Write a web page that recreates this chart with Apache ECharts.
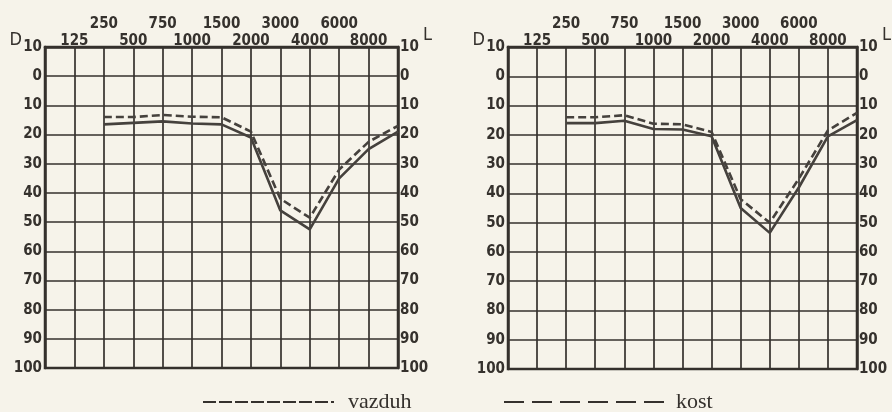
<!DOCTYPE html>
<html>
<head>
<meta charset="utf-8">
<script src="https://cdn.jsdelivr.net/npm/echarts@6/dist/echarts.min.js"></script>
<style>
html,body{margin:0;padding:0;background:#f6f3ea;}
#chart{width:892px;height:412px;}
</style>
</head>
<body>
<div id="chart"></div>
<script>
// frequency columns, index 0 and 12 are the frame edges
const freqLabels = ['', '125', '250', '500', '750', '1000', '1500', '2000', '3000', '4000', '6000', '8000', ''];
const lowerRow = ['125', '500', '1000', '2000', '4000', '8000'];
const upperRow = ['250', '750', '1500', '3000', '6000'];

// measured points: 250 .. 8000 Hz and the right edge
const pointIdx = [2, 3, 4, 5, 6, 7, 8, 9, 10, 11, 12];
const leftAir = [16.5, 16, 15.5, 16.2, 16.5, 21, 46, 52.5, 35, 25, 19];
const leftBone = [14, 14, 13.3, 13.9, 14.1, 19, 42, 48.5, 32, 22.5, 17];
const rightAir = [16, 16, 15.2, 18, 18.2, 20.5, 45, 53.5, 38, 20.5, 15];
const rightBone = [14, 14, 13.3, 16.2, 16.4, 19, 42, 50, 35, 18.5, 12.5];

const ink = '#35312d';
const paper = '#f6f3ea';
const numFont = '"DejaVu Sans Condensed", "DejaVu Sans", sans-serif';

const pairs = vals => vals.map((v, i) => [pointIdx[i], v]);

const grids = [
    {left: 45, top: 47, width: 353, height: 321},
    {left: 508, top: 47, width: 350, height: 322}
];

const xAxes = [];
const yAxes = [];
grids.forEach((g, gi) => {
    xAxes.push({
        gridIndex: gi, type: 'value', min: 0, max: 12, interval: 1, position: 'top',
        axisLine: {show: true, onZero: false, lineStyle: {color: ink, width: 2.5}},
        axisTick: {show: false},
        splitLine: {show: true, lineStyle: {color: ink, width: 1.7}},
        axisLabel: {
            margin: -2, color: ink, fontFamily: numFont, fontSize: 15, fontWeight: 'bold',
            formatter: v => lowerRow.includes(freqLabels[v]) ? freqLabels[v] : ''
        }
    });
    xAxes.push({
        gridIndex: gi, type: 'value', min: 0, max: 12, interval: 1, position: 'top', offset: 17,
        axisLine: {show: false, onZero: false}, axisTick: {show: false}, splitLine: {show: false},
        axisLabel: {
            margin: -2, color: ink, fontFamily: numFont, fontSize: 15, fontWeight: 'bold',
            formatter: v => upperRow.includes(freqLabels[v]) ? freqLabels[v] : ''
        }
    });
    const yBase = {
        gridIndex: gi, type: 'value', inverse: true, min: -10, max: 100, interval: 10,
        axisLine: {show: true, onZero: false, lineStyle: {color: ink, width: 2.5}},
        axisTick: {show: false},
        nameLocation: 'start',
        nameGap: -2,
        nameMoveOverlap: false
    };
    yAxes.push(Object.assign({}, yBase, {
        position: 'left', name: 'D',
        nameTextStyle: {color: ink, fontFamily: numFont, fontSize: 18, align: 'right', padding: [0, 23, 0, 0]},
        splitLine: {show: true, lineStyle: {color: ink, width: 1.7}},
        axisLabel: {margin: 3, color: ink, fontFamily: numFont, fontSize: 15, fontWeight: 'bold',
            formatter: v => String(Math.abs(v))}
    }));
    yAxes.push(Object.assign({}, yBase, {
        position: 'right', name: 'L',
        nameTextStyle: {color: ink, fontFamily: numFont, fontSize: 18, align: 'left', padding: [0, 0, 5, 25]},
        splitLine: {show: false},
        axisLabel: {margin: 2, color: ink, fontFamily: numFont, fontSize: 15, fontWeight: 'bold',
            formatter: v => String(Math.abs(v))}
    }));
});

const lineSeries = (name, gi, vals, dashed) => ({
    name: name, type: 'line', xAxisIndex: gi * 2, yAxisIndex: gi * 2,
    data: pairs(vals), symbol: 'none', silent: true,
    itemStyle: {color: ink},
    lineStyle: {color: '#45413d', width: 2.6, type: dashed ? [8, 4] : 'solid'}
});

const chart = echarts.init(document.getElementById('chart'));
chart.setOption({
    backgroundColor: paper,
    animation: false,
    grid: grids.map(g => Object.assign({show: true, borderColor: ink, borderWidth: 2.5, backgroundColor: 'transparent'}, g)),
    xAxis: xAxes,
    yAxis: yAxes,
    legend: [{
        data: ['vazduh'], left: 202, top: 391, padding: 0, selectedMode: false,
        itemWidth: 131, itemHeight: 14,
        itemStyle: {opacity: 0},
        lineStyle: {type: [13, 3], width: 2, color: ink},
        textStyle: {color: ink, fontFamily: '"Liberation Serif", serif', fontSize: 22, padding: [0, 0, 0, 9]}
    }, {
        data: ['kost'], left: 503, top: 391, padding: 0, selectedMode: false,
        itemWidth: 164, itemHeight: 14,
        itemStyle: {opacity: 0},
        lineStyle: {type: [20, 8], width: 2, color: ink},
        textStyle: {color: ink, fontFamily: '"Liberation Serif", serif', fontSize: 22, padding: [0, 0, 0, 3]}
    }],
    series: [
        lineSeries('vazduh', 0, leftAir, false),
        lineSeries('kost', 0, leftBone, true),
        lineSeries('vazduh', 1, rightAir, false),
        lineSeries('kost', 1, rightBone, true)
    ]
});
</script>
</body>
</html>
